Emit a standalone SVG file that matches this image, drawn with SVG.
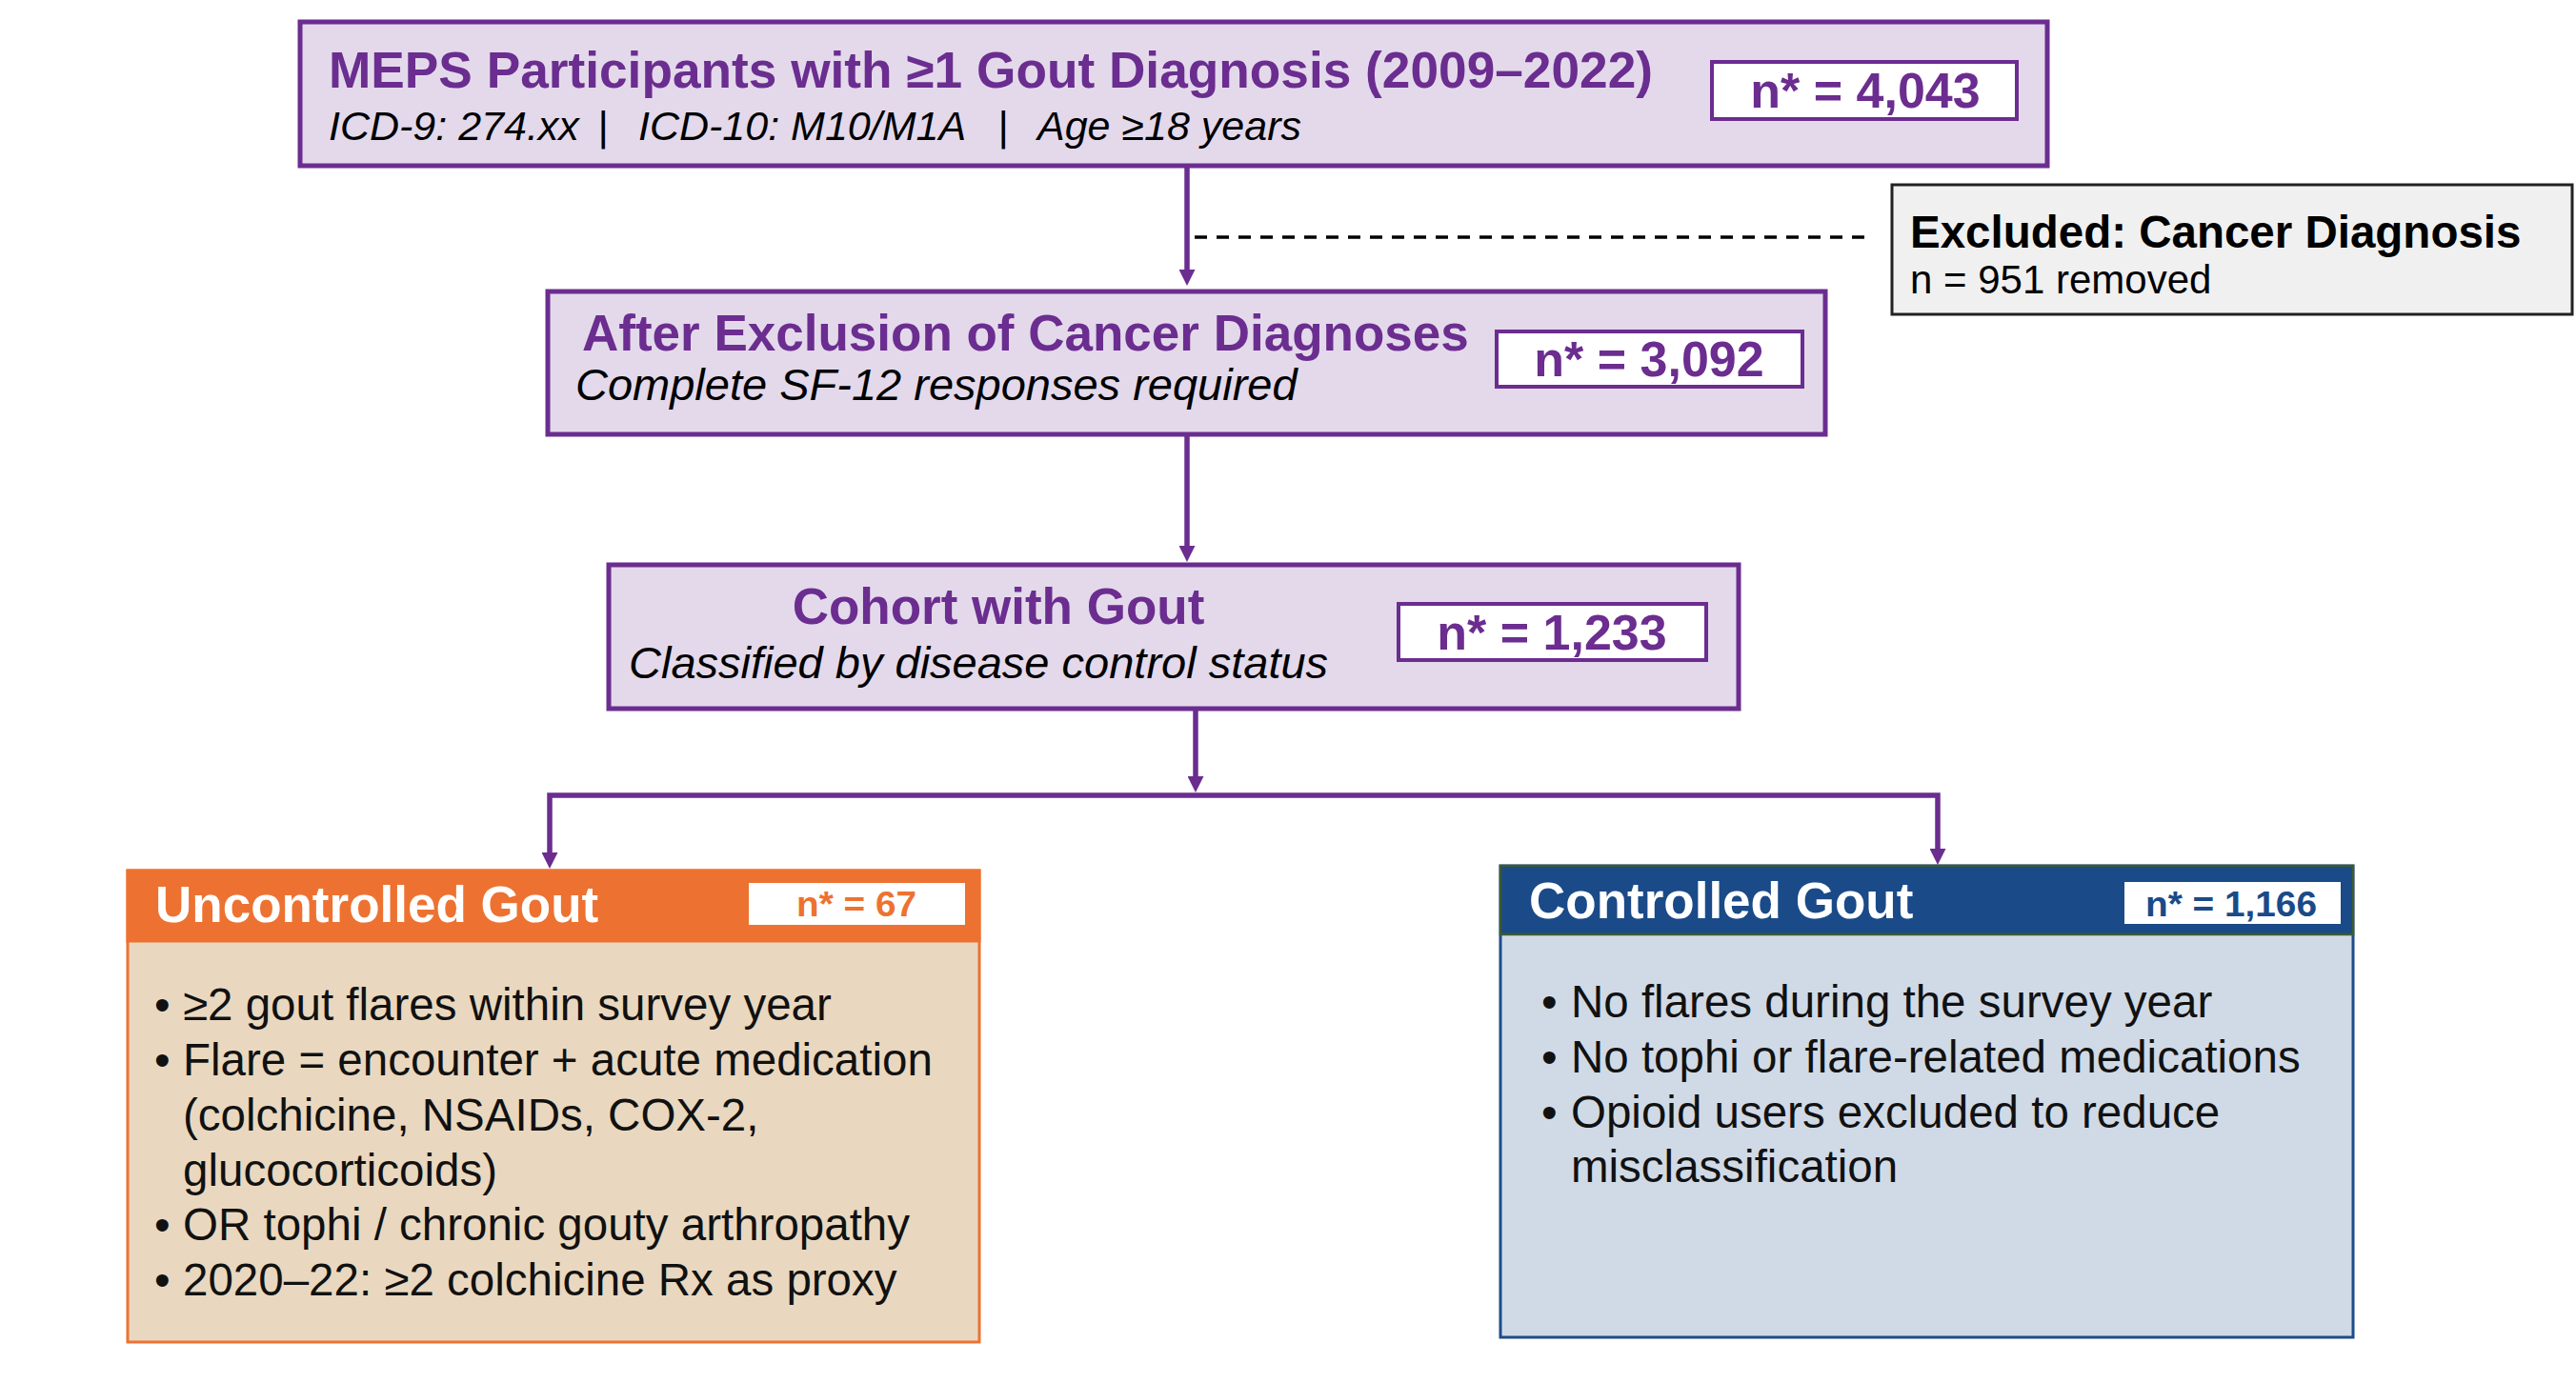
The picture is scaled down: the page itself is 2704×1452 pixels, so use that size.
<svg xmlns="http://www.w3.org/2000/svg" width="2704" height="1452" viewBox="0 0 2704 1452">
<style>
.bg{fill:#ffffff}
.pbox{fill:#E3D9EB;stroke:#6B2D8F;stroke-width:5}
.nbox{fill:#ffffff;stroke:#6B2D8F;stroke-width:4}
.t{font-family:"Liberation Sans",Arial,sans-serif}
.ptitle{font-weight:bold;font-size:53px;fill:#6B2D8F}
.pnum{font-weight:bold;font-size:52px;fill:#6B2D8F}
.sub{font-style:italic;font-size:47px;fill:#000000}
.conn{fill:none;stroke:#6B2D8F;stroke-width:5.5}
.dash{fill:none;stroke:#000000;stroke-width:3.5;stroke-dasharray:13 10}
.hdr{font-weight:bold;font-size:53px;fill:#ffffff}
.bul{font-size:47.5px;fill:#111111}
</style>
<defs>
<marker id="ah" markerUnits="userSpaceOnUse" markerWidth="17" markerHeight="17" viewBox="0 0 17 17" refX="5" refY="8.5" orient="auto-start-reverse">
<path d="M0,0 L17,8.5 L0,17 z" fill="#6B2D8F"/>
</marker>
</defs>
<rect class="bg" x="0" y="0" width="2704" height="1452"/>

<g id="connectors">
<line class="conn" x1="1246" y1="176" x2="1246" y2="288" marker-end="url(#ah)"/>
<line class="dash" x1="1254" y1="249" x2="1966" y2="249"/>
<line class="conn" x1="1246" y1="458" x2="1246" y2="578" marker-end="url(#ah)"/>
<line class="conn" x1="1255" y1="746" x2="1255" y2="820" marker-end="url(#ah)"/>
<path class="conn" d="M577,900 V835 H2034 V896" marker-start="url(#ah)" marker-end="url(#ah)"/>
</g>

<g id="node-meps">
<rect class="pbox" x="315" y="23" width="1834" height="151"/>
<text class="t ptitle" x="345" y="92" textLength="1390" lengthAdjust="spacingAndGlyphs">MEPS Participants with ≥1 Gout Diagnosis (2009–2022)</text>
<text class="t" font-style="italic" font-size="43" fill="#000"><tspan x="345" y="147">ICD-9: 274.xx</tspan><tspan x="627" y="147">|</tspan><tspan x="670" y="147">ICD-10: M10/M1A</tspan><tspan x="1047" y="147">|</tspan><tspan x="1089" y="147">Age ≥18 years</tspan></text>
<rect class="nbox" x="1797" y="65" width="320" height="60"/>
<text class="t pnum" x="1958" y="113" text-anchor="middle">n* = 4,043</text>
</g>

<g id="node-excluded">
<rect x="1986" y="194" width="714" height="136" fill="#F0F0F0" stroke="#222222" stroke-width="3"/>
<text class="t" x="2005" y="260" font-weight="bold" font-size="47.5" fill="#000">Excluded: Cancer Diagnosis</text>
<text class="t" x="2005" y="308" font-size="42" fill="#000">n = 951 removed</text>
</g>

<g id="node-after-exclusion">
<rect class="pbox" x="575" y="306" width="1341" height="150"/>
<text class="t ptitle" x="611" y="368">After Exclusion of Cancer Diagnoses</text>
<text class="t sub" x="604" y="420">Complete SF-12 responses required</text>
<rect class="nbox" x="1571" y="348" width="321" height="58"/>
<text class="t pnum" x="1731" y="395" text-anchor="middle">n* = 3,092</text>
</g>

<g id="node-cohort">
<rect class="pbox" x="639" y="593" width="1186" height="151"/>
<text class="t ptitle" x="1048" y="655" text-anchor="middle">Cohort with Gout</text>
<text class="t sub" x="660" y="712">Classified by disease control status</text>
<rect class="nbox" x="1468" y="634" width="323" height="59"/>
<text class="t pnum" x="1629" y="682" text-anchor="middle">n* = 1,233</text>
</g>

<g id="node-uncontrolled">
<rect x="134" y="914" width="894" height="495" fill="#E9D8BF" stroke="#ED7231" stroke-width="3"/>
<rect x="134" y="914" width="894" height="74" fill="#ED7231" stroke="#ED7231" stroke-width="3"/>
<text class="t hdr" x="163" y="968">Uncontrolled Gout</text>
<rect x="786" y="927" width="227" height="44" fill="#ffffff"/>
<text class="t" x="899" y="962" text-anchor="middle" font-weight="bold" font-size="36" fill="#ED7231" textLength="126" lengthAdjust="spacingAndGlyphs">n* = 67</text>
<text class="t bul">
<tspan x="162" y="1071">•</tspan><tspan x="192" y="1071">≥2 gout flares within survey year</tspan>
<tspan x="162" y="1129">•</tspan><tspan x="192" y="1129">Flare = encounter + acute medication</tspan>
<tspan x="192" y="1187">(colchicine, NSAIDs, COX-2,</tspan>
<tspan x="192" y="1245">glucocorticoids)</tspan>
<tspan x="162" y="1302">•</tspan><tspan x="192" y="1302">OR tophi / chronic gouty arthropathy</tspan>
<tspan x="162" y="1360">•</tspan><tspan x="192" y="1360">2020–22: ≥2 colchicine Rx as proxy</tspan>
</text>
</g>

<g id="node-controlled">
<rect x="1575" y="909" width="895" height="495" fill="#D0DAE6" stroke="#1C4C8A" stroke-width="3"/>
<rect x="1575" y="909" width="895" height="72" fill="#1A4A88" stroke="#3E5A2E" stroke-width="2.5"/>
<text class="t hdr" x="1605" y="964">Controlled Gout</text>
<rect x="2230" y="926" width="227" height="44" fill="#ffffff"/>
<text class="t" x="2342" y="962" text-anchor="middle" font-weight="bold" font-size="36" fill="#1A4A88" textLength="180" lengthAdjust="spacingAndGlyphs">n* = 1,166</text>
<text class="t bul">
<tspan x="1618" y="1068">•</tspan><tspan x="1649" y="1068">No flares during the survey year</tspan>
<tspan x="1618" y="1126">•</tspan><tspan x="1649" y="1126">No tophi or flare-related medications</tspan>
<tspan x="1618" y="1184">•</tspan><tspan x="1649" y="1184">Opioid users excluded to reduce</tspan>
<tspan x="1649" y="1241">misclassification</tspan>
</text>
</g>
</svg>
